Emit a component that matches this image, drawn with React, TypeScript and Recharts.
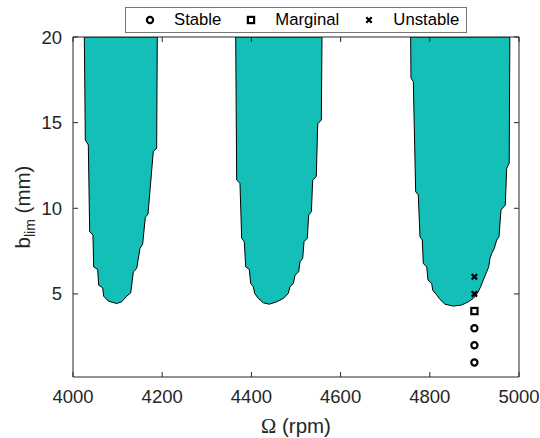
import React from 'react';
import { ComposedChart, Area, Scatter, XAxis, YAxis, Legend } from 'recharts';

const FONT = '"Liberation Sans", Arial, Helvetica, sans-serif';
const INK = '#262626';
const LOBE_FILL = '#14bfb8';

const X_TICKS = [4000, 4200, 4400, 4600, 4800, 5000];
const Y_TICKS = [5, 10, 15, 20];
const B_TOP = 20;

// stability lobe boundaries: spindle speed (rpm) vs limiting depth b_lim (mm)
const LOBE1_RPM = [4025.4, 4027.6, 4034.3, 4037.4, 4044.8, 4046.3, 4055.3, 4057.6, 4066.5, 4068.8, 4079.1, 4097.9,
  4109.2, 4120.4, 4129.4, 4135.3, 4142.8, 4150.2, 4156.2, 4162.1, 4168.2, 4180.0, 4187.6, 4189.0];
const LOBE1_BLIM = [20, 13.99, 13.7, 8.63, 8.44, 6.58, 6.43, 5.51, 5.36, 4.87, 4.58, 4.44,
  4.54, 4.87, 5.06, 6.29, 6.49, 7.66, 7.91, 9.47, 9.67, 13.31, 13.51, 20];

const LOBE2_RPM = [4364.8, 4367.0, 4374.4, 4378.2, 4384.0, 4387.2, 4395.3, 4398.4, 4404.3, 4407.4, 4415.5, 4426.7, 4440.1,
  4456.7, 4471.5, 4482.7, 4486.5, 4494.0, 4497.8, 4506.0, 4509.0, 4515.0, 4518.0, 4525.3, 4528.5, 4534.5, 4537.4,
  4545.5, 4548.7, 4556.8, 4558.3];
const LOBE2_BLIM = [20, 11.65, 11.46, 8.25, 8.05, 6.58, 6.43, 5.61, 5.42, 5.03, 4.74, 4.48, 4.4,
  4.54, 4.74, 5.03, 5.42, 5.61, 6.1, 6.29, 6.88, 7.08, 8.05, 8.25, 9.61, 9.8, 11.65,
  11.85, 14.93, 15.16, 20];

const LOBE3_RPM = [4757.1, 4757.8, 4763.0, 4768.3, 4774.2, 4778.0, 4783.2, 4785.4, 4793.0, 4796.0, 4804.3, 4806.5,
  4813.9, 4822.9, 4834.1, 4852.7, 4871.5, 4886.3, 4897.5, 4906.5, 4914.1, 4919.9, 4927.6, 4932.0, 4935.0, 4938.8,
  4944.6, 4950.0, 4955.2, 4959.6, 4969.3, 4972.4, 4978.0, 4979.5];
const LOBE3_BLIM = [20, 17.6, 17.4, 10.97, 10.78, 8.34, 8.15, 6.78, 6.58, 5.81, 5.61, 5.22,
  4.99, 4.68, 4.4, 4.29, 4.35, 4.54, 4.74, 5.03, 5.42, 5.81, 6.29, 6.58, 7.08, 7.37,
  7.66, 8.15, 8.34, 9.9, 10.19, 12.34, 12.63, 20];

// cutting tests
const TEST_RPM = 4900;
const STABLE_B = [1, 2, 3];
const MARGINAL_B = [4];
const UNSTABLE_B = [5, 6];
const LEGEND_NAMES = ['Stable', 'Marginal', 'Unstable'];

const lobe = (rpm: number[], blim: number[]) => rpm.map((r, i) => ({ rpm: r, band: [blim[i], B_TOP] }));
const tests = (bs: number[]) => bs.map((b) => ({ rpm: TEST_RPM, b }));

const CircleMark = ({ cx, cy }: any) => (
  <circle cx={cx} cy={cy} r={3.1} fill="none" stroke="#000" strokeWidth={2.2} />
);
const SquareMark = ({ cx, cy }: any) => (
  <rect x={cx - 3.1} y={cy - 3.1} width={6.2} height={6.2} fill="none" stroke="#000" strokeWidth={2.2} />
);
const CrossMark = ({ cx, cy }: any) => (
  <path d={`M${cx - 2.7},${cy - 2.7}L${cx + 2.7},${cy + 2.7}M${cx - 2.7},${cy + 2.7}L${cx + 2.7},${cy - 2.7}`}
    stroke="#000" strokeWidth={2.2} />
);
const NoMark = () => <g />;

const ICONS: Record<string, any> = { Stable: CircleMark, Marginal: SquareMark, Unstable: CrossMark };

const renderLegend = () => (
  <div
    style={{
      boxSizing: 'border-box', width: 342, height: 26, border: '1px solid #777', background: '#fff',
      display: 'flex', alignItems: 'center', paddingLeft: 19, fontFamily: FONT, fontSize: 16.7, color: '#000',
    }}
  >
    {LEGEND_NAMES.map((name) => {
      const Icon = ICONS[name];
      return (
        <span key={name} style={{ display: 'flex', alignItems: 'center', marginRight: 25 }}>
          <svg width={10} height={10} style={{ marginRight: 19 }}>
            <Icon cx={5} cy={5} />
          </svg>
          <span>{name}</span>
        </span>
      );
    })}
  </div>
);

// inward ticks (MATLAB style); labels only on bottom and left
const TICK_LEN = 5;
const BottomTick = ({ x, y, payload }: any) => (
  <g>
    <line x1={x} x2={x} y1={y - 13} y2={y - 13 - TICK_LEN} stroke={INK} />
    <text x={x} y={y} dy="0.71em" textAnchor="middle" fill={INK} fontSize={18.5} fontFamily={FONT}>
      {payload.value}
    </text>
  </g>
);
const LeftTick = ({ x, y, payload }: any) => (
  <g>
    <line x1={x + 11} x2={x + 11 + TICK_LEN} y1={y} y2={y} stroke={INK} />
    <text x={x} y={y} dy="0.355em" textAnchor="end" fill={INK} fontSize={18.5} fontFamily={FONT}>
      {payload.value}
    </text>
  </g>
);
const TopTick = ({ x, y }: any) => <line x1={x} x2={x} y1={y} y2={y + TICK_LEN} stroke={INK} />;
const RightTick = ({ x, y }: any) => <line x1={x} x2={x - TICK_LEN} y1={y} y2={y} stroke={INK} />;

const renderXLabel = ({ viewBox }: any) => (
  <text x={viewBox.x + viewBox.width / 2} y={viewBox.y + viewBox.height - 5} textAnchor="middle"
    fontFamily={FONT} fontSize={20.5} fill={INK}>
    <tspan fontFamily='"Liberation Serif", "DejaVu Serif", serif'>Ω</tspan> (rpm)
  </text>
);

const renderYLabel = ({ viewBox }: any) => {
  const x = 30;
  const y = viewBox.y + viewBox.height / 2;
  return (
    <text x={x} y={y} transform={`rotate(-90 ${x} ${y})`} textAnchor="middle"
      fontFamily={FONT} fontSize={20.5} fill={INK}>
      b<tspan fontSize={14} dy={5}>lim</tspan><tspan dy={-5}> (mm)</tspan>
    </text>
  );
};

export default function App() {
  return (
    <div style={{ position: 'absolute', left: 0, top: 0, width: 540, height: 438, background: '#fff' }}>
      <ComposedChart width={540} height={438} margin={{ top: 36, right: 20, bottom: 0, left: 33 }}>
        <XAxis
          dataKey="rpm" type="number" domain={[4000, 5000]} ticks={X_TICKS} allowDataOverflow
          height={61} tickSize={0} tickMargin={13} tick={BottomTick} tickLine={false}
          axisLine={{ stroke: INK }} label={{ content: renderXLabel }}
        />
        <XAxis
          xAxisId="top" orientation="top" dataKey="rpm" type="number" domain={[4000, 5000]} ticks={X_TICKS}
          allowDataOverflow height={1} tickSize={0} tickMargin={0} tick={TopTick} tickLine={false}
          axisLine={{ stroke: INK }}
        />
        <YAxis
          dataKey="b" type="number" domain={[0.15, 20]} ticks={Y_TICKS} allowDataOverflow
          width={40} tickSize={0} tickMargin={11} tick={LeftTick} tickLine={false}
          axisLine={{ stroke: INK }} label={{ content: renderYLabel }}
        />
        <YAxis
          yAxisId="right" orientation="right" dataKey="b" type="number" domain={[0.15, 20]} ticks={Y_TICKS}
          allowDataOverflow width={1} tickSize={0} tickMargin={0} tick={RightTick} tickLine={false}
          axisLine={{ stroke: INK }}
        />
        <Area data={lobe(LOBE1_RPM, LOBE1_BLIM)} dataKey="band" type="linear" fill={LOBE_FILL} fillOpacity={1}
          stroke="#000" strokeWidth={1} legendType="none" isAnimationActive={false} />
        <Area data={lobe(LOBE2_RPM, LOBE2_BLIM)} dataKey="band" type="linear" fill={LOBE_FILL} fillOpacity={1}
          stroke="#000" strokeWidth={1} legendType="none" isAnimationActive={false} />
        <Area data={lobe(LOBE3_RPM, LOBE3_BLIM)} dataKey="band" type="linear" fill={LOBE_FILL} fillOpacity={1}
          stroke="#000" strokeWidth={1} legendType="none" isAnimationActive={false} />
        <Scatter name="Stable" data={tests(STABLE_B)} dataKey="b" shape={CircleMark} isAnimationActive={false} />
        <Scatter name="Marginal" data={tests(MARGINAL_B)} dataKey="b" shape={SquareMark} isAnimationActive={false} />
        <Scatter name="Unstable" data={tests(UNSTABLE_B)} dataKey="b" shape={CrossMark} isAnimationActive={false} />
        {/* invisible series so the top/right box axes are drawn */}
        <Scatter xAxisId="top" yAxisId="right" data={tests(STABLE_B)} dataKey="b" shape={NoMark}
          legendType="none" isAnimationActive={false} />
        <Legend
          layout="horizontal" verticalAlign="middle" content={renderLegend}
          wrapperStyle={{ left: 125, top: 7, width: 342, height: 26 }}
        />
      </ComposedChart>
    </div>
  );
}
